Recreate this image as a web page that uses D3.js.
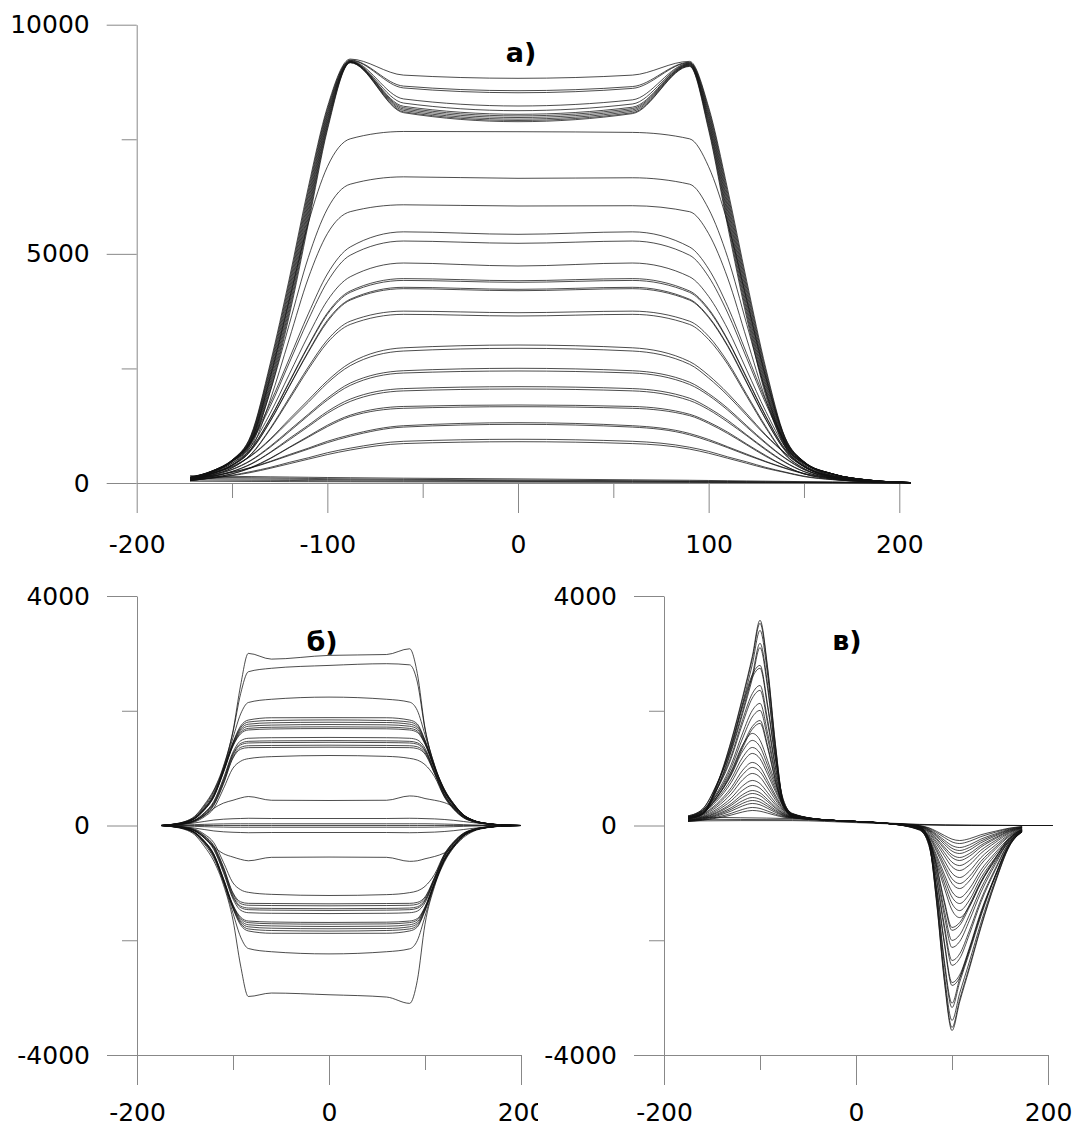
<!DOCTYPE html>
<html>
<head>
<meta charset="utf-8">
<script src="https://cdn.jsdelivr.net/npm/d3@7"></script>
<style>
body { margin: 0; background: #fff; }
svg { display: block; }
text { font-family: "DejaVu Sans", sans-serif; }
</style>
</head>
<body>
<div id="chart"></div>
<script>
// ---- panel a) ----
const xA = [-172,-160,-150,-140,-130,-120,-110,-100,-88,-60,0,60,90,100,110,120,130,140,150,165,185,206];
const curvesA = [
	[130,270,500,1050,2600,4450,6450,8200,9250,8900,8830,8900,9200,8200,6400,4400,2500,1000,470,200,60,10],
	[125,265,495,1030,2540,4370,6370,8150,9230,8660,8560,8650,9180,8150,6320,4320,2440,980,465,200,60,10],
	[120,260,490,1010,2480,4290,6290,8100,9220,8620,8515,8610,9170,8100,6240,4240,2380,960,460,200,60,10],
	[118,258,485,990,2420,4210,6210,8050,9210,8380,8226,8360,9160,8050,6160,4160,2320,940,455,198,60,10],
	[117,256,482,970,2360,4130,6130,8000,9200,8290,8124,8270,9150,8000,6080,4080,2260,920,450,197,59,10],
	[116,255,478,950,2300,4050,6050,7950,9195,8220,8045,8200,9140,7950,6000,4000,2200,900,446,196,59,10],
	[115,254,475,930,2240,3970,5970,7900,9190,8190,8010,8170,9130,7900,5920,3920,2140,880,442,195,58,10],
	[114,252,472,910,2180,3890,5890,7850,9185,8160,7975,8140,9120,7850,5840,3840,2080,860,438,195,58,10],
	[113,250,468,890,2120,3810,5810,7800,9180,8130,7940,8110,9110,7800,5760,3760,2020,840,434,194,58,10],
	[112,248,465,870,2060,3730,5730,7750,9175,8100,7910,8080,9100,7750,5680,3680,1960,820,430,193,57,10],
	[110,246,460,850,2000,3650,5650,7700,9170,8080,7884,8060,9090,7700,5600,3600,1900,800,425,192,57,10],
	[120,270,500,920,2300,3990,5670,6900,7510,7670,7665,7650,7510,6900,5670,3990,2300,1000,460,190,60,10],
	[100,230,430,800,1990,3460,4920,5980,6520,6680,6648,6660,6520,5980,4920,3460,1990,860,400,170,50,7],
	[90,210,390,730,1810,3140,4470,5440,5920,6070,6044,6050,5920,5440,4470,3140,1810,790,360,150,50,6],
	[110,270,490,920,1740,2710,3690,4560,5150,5480,5426,5480,5150,4670,3850,2820,1790,920,460,160,50,10],
	[100,260,470,890,1670,2620,3560,4390,4970,5280,5230,5280,4970,4500,3710,2720,1730,890,440,160,50,10],
	[95,240,430,800,1520,2370,3220,3980,4500,4800,4735,4800,4500,4070,3360,2460,1560,800,400,140,50,9],
	[90,220,400,750,1410,2210,3000,3710,4190,4460,4414,4460,4190,3800,3130,2300,1460,750,380,130,40,9],
	[90,220,390,740,1400,2190,2980,3680,4160,4420,4379,4420,4160,3770,3110,2280,1450,740,370,130,40,9],
	[85,210,380,720,1350,2110,2870,3550,4010,4270,4226,4270,4010,3630,3000,2200,1390,720,360,130,40,8],
	[84,210,380,710,1340,2100,2850,3520,3990,4240,4196,4240,3990,3610,2980,2180,1380,710,360,130,40,8],
	[75,190,330,630,1190,1860,2530,3120,3530,3750,3716,3750,3530,3200,2640,1930,1230,630,320,110,40,7],
	[73,180,330,620,1170,1820,2480,3060,3460,3680,3644,3680,3460,3130,2590,1890,1200,620,310,110,36,7],
	[90,210,360,600,960,1390,1810,2230,2620,2950,3011,2950,2650,2350,1960,1510,1050,660,360,150,45,9],
	[88,210,350,590,940,1350,1760,2180,2560,2880,2939,2880,2590,2290,1910,1470,1030,650,350,150,44,9],
	[75,180,300,500,800,1150,1500,1850,2180,2450,2503,2450,2200,1950,1630,1250,880,550,300,130,38,8],
	[73,170,290,490,780,1120,1470,1810,2130,2400,2444,2400,2150,1910,1590,1220,860,540,290,120,37,7],
	[63,150,250,420,670,970,1260,1560,1830,2060,2102,2060,1850,1640,1370,1050,740,460,250,105,32,6],
	[62,140,250,410,660,940,1230,1520,1780,2010,2051,2010,1800,1600,1330,1030,720,450,250,100,31,6],
	[51,120,200,340,540,780,1020,1260,1480,1670,1702,1670,1500,1330,1110,850,600,370,200,85,26,5],
	[50,120,200,330,530,770,1000,1230,1450,1630,1665,1630,1470,1300,1080,830,580,370,200,83,25,5],
	[80,160,240,340,470,620,760,910,1050,1250,1316,1250,1080,950,790,630,470,330,210,105,39,7],
	[77,150,230,330,460,600,740,880,1020,1220,1280,1220,1050,920,770,610,460,320,200,100,38,6],
	[57,110,170,250,340,450,550,660,760,910,954,910,780,690,570,460,340,240,150,76,29,5],
	[54,110,160,230,320,420,520,620,720,860,901,860,740,650,540,430,320,230,140,72,27,5],
	[160,150,145,140,135,130,125,120,115,105,90,70,60,55,50,45,40,35,30,25,15,0],
	[130,125,120,115,110,105,100,95,90,80,65,50,42,38,34,30,27,24,20,15,8,0],
	[100,95,90,88,85,82,78,75,70,62,50,38,32,29,26,23,20,17,14,10,5,0],
	[70,66,63,60,58,55,52,50,47,42,34,26,22,20,18,16,14,12,10,7,3,0],
	[40,38,36,34,33,31,30,28,27,24,19,15,12,11,10,9,8,7,6,4,2,0]
];
const xTicksA = [-200,-100,0,100,200];
const xMinorA = [-150,-50,50,150];
const yTicksA = [0,5000,10000];
const yMinorA = [2500,7500];

// ---- panel б) ----
const xB = [-175,-160,-150,-140,-130,-120,-110,-100,-92,-84,-60,0,60,84,92,100,110,120,130,140,150,165,180,200];
const curvesBPos = [
	[0,30,70,160,360,620,1030,1650,2450,3000,2900,2965,2980,3080,2650,1700,1050,640,380,190,95,35,12,0],
	[0,28,66,150,340,600,1010,1630,2300,2680,2740,2790,2820,2800,2500,1680,1045,635,375,188,94,35,12,0],
	[0,26,62,140,320,570,990,1530,1945,2144,2200,2238,2200,2150,2005,1583,1030,625,370,185,92,34,12,0],
	[0,25,58,132,300,540,970,1450,1735,1838,1878,1880,1878,1838,1769,1490,1015,615,365,182,90,33,11,0],
	[0,24,56,128,292,530,960,1440,1708,1803,1830,1840,1830,1803,1741,1475,1010,610,360,180,90,33,11,0],
	[0,24,55,125,285,520,950,1425,1681,1766,1790,1800,1795,1766,1710,1460,1005,605,355,178,89,32,11,0],
	[0,23,54,122,278,510,940,1410,1652,1730,1750,1760,1755,1730,1679,1445,1000,600,350,175,88,32,11,0],
	[0,22,52,118,270,500,930,1395,1622,1693,1712,1720,1715,1693,1647,1430,995,595,345,172,86,31,11,0],
	[0,22,51,116,265,495,920,1385,1599,1665,1682,1690,1685,1665,1622,1418,990,590,340,170,85,31,10,0],
	[0,18,42,95,220,420,820,1280,1477,1520,1530,1535,1530,1520,1492,1345,950,560,320,160,80,30,10,0],
	[0,17,40,90,210,400,790,1250,1431,1467,1475,1480,1475,1467,1443,1315,935,550,312,155,78,29,10,0],
	[0,16,38,85,200,385,770,1230,1405,1438,1445,1450,1445,1438,1417,1298,925,540,305,150,75,28,10,0],
	[0,15,35,80,185,365,740,1195,1362,1390,1395,1400,1395,1390,1372,1268,910,525,295,145,72,27,9,0],
	[0,14,33,75,175,350,720,1175,1331,1357,1360,1365,1360,1357,1340,1245,900,515,288,140,70,26,9,0],
	[0,12,28,62,150,300,640,1000,1120,1165,1200,1220,1205,1170,1140,1060,850,500,280,135,68,25,8,0],
	[0,15,35,80,170,300,390,440,480,505,440,436,440,515,505,470,440,400,320,180,90,34,11,0],
	[0,10,25,45,70,95,110,118,122,126,122,122,122,126,124,120,115,105,90,70,50,25,8,0],
	[0,5,10,15,20,25,28,30,30,30,30,30,30,30,30,30,28,25,20,15,10,5,2,0],
	[0,0,0,0,0,0,0,0,0,0,0,0,0,0,0,0,0,0,0,0,0,0,0,0]
];
const curvesBNeg = [
	[0,-30,-70,-160,-360,-620,-1030,-1650,-2450,-2980,-2920,-2950,-2990,-3100,-2700,-1720,-1060,-645,-382,-190,-95,-35,-12,0],
	[0,-26,-62,-140,-320,-570,-990,-1530,-1945,-2144,-2200,-2238,-2200,-2150,-2005,-1583,-1030,-625,-370,-185,-92,-34,-12,0],
	[0,-25,-58,-132,-300,-540,-970,-1450,-1735,-1838,-1878,-1880,-1878,-1838,-1769,-1490,-1015,-615,-365,-182,-90,-33,-11,0],
	[0,-24,-56,-128,-292,-530,-960,-1440,-1708,-1803,-1830,-1840,-1830,-1803,-1741,-1475,-1010,-610,-360,-180,-90,-33,-11,0],
	[0,-24,-55,-125,-285,-520,-950,-1425,-1681,-1766,-1790,-1800,-1795,-1766,-1710,-1460,-1005,-605,-355,-178,-89,-32,-11,0],
	[0,-23,-54,-122,-278,-510,-940,-1410,-1652,-1730,-1750,-1760,-1755,-1730,-1679,-1445,-1000,-600,-350,-175,-88,-32,-11,0],
	[0,-22,-52,-118,-270,-500,-930,-1395,-1622,-1693,-1712,-1720,-1715,-1693,-1647,-1430,-995,-595,-345,-172,-86,-31,-11,0],
	[0,-22,-51,-116,-265,-495,-920,-1385,-1599,-1665,-1682,-1690,-1685,-1665,-1622,-1418,-990,-590,-340,-170,-85,-31,-10,0],
	[0,-18,-42,-95,-220,-420,-820,-1280,-1477,-1520,-1530,-1535,-1530,-1520,-1492,-1345,-950,-560,-320,-160,-80,-30,-10,0],
	[0,-17,-40,-90,-210,-400,-790,-1250,-1431,-1467,-1475,-1480,-1475,-1467,-1443,-1315,-935,-550,-312,-155,-78,-29,-10,0],
	[0,-16,-38,-85,-200,-385,-770,-1230,-1405,-1438,-1445,-1450,-1445,-1438,-1417,-1298,-925,-540,-305,-150,-75,-28,-10,0],
	[0,-15,-35,-80,-185,-365,-740,-1195,-1362,-1390,-1395,-1400,-1395,-1390,-1372,-1268,-910,-525,-295,-145,-72,-27,-9,0],
	[0,-14,-33,-75,-175,-350,-720,-1175,-1331,-1357,-1360,-1365,-1360,-1357,-1340,-1245,-900,-515,-288,-140,-70,-26,-9,0],
	[0,-12,-28,-62,-150,-300,-640,-1000,-1120,-1165,-1200,-1220,-1205,-1170,-1140,-1060,-850,-500,-280,-135,-68,-25,-8,0],
	[0,-18,-42,-95,-210,-370,-490,-550,-590,-615,-555,-550,-555,-625,-615,-580,-540,-480,-370,-210,-105,-38,-12,0],
	[0,-10,-25,-45,-70,-95,-110,-118,-122,-126,-122,-122,-122,-126,-124,-120,-115,-105,-90,-70,-50,-25,-8,0],
	[0,-5,-10,-15,-20,-25,-28,-30,-30,-30,-30,-30,-30,-30,-30,-30,-28,-25,-20,-15,-10,-5,-2,0]
];
const xTicksB = [-200,0,200];
const xMinorB = [-100,100];
const yTicksB = [-4000,0,4000];
const yMinorB = [-2000,2000];

// ---- panel в) ----
const xC = [-175,-160,-145,-130,-118,-108,-100,-92,-84,-76,-66,-30,0,30,66,76,84,92,100,108,118,130,145,160,173];
const curvesC = [
	[130,210,706,1480,2250,2950,3576,2747,1431,428,155,95,70,40,-21,-312,-1351,-2713,-3573,-3075,-2503,-1788,-1001,-358,-107],
	[128,207,696,1459,2217,2907,3523,2706,1411,423,154,95,70,40,-20,-307,-1331,-2672,-3520,-3030,-2466,-1762,-986,-352,-106],
	[126,202,674,1410,2141,2806,3400,2613,1364,412,153,95,70,40,-19,-296,-1284,-2579,-3397,-2924,-2380,-1700,-952,-340,-102],
	[122,193,634,1320,2002,2622,3175,2442,1279,392,151,95,70,40,-17,-276,-1199,-2408,-3172,-2731,-2223,-1588,-889,-318,-95],
	[120,190,620,1290,1955,2560,3100,2385,1250,385,150,95,70,40,-16,-269,-1170,-2351,-3097,-2666,-2170,-1550,-868,-310,-93],
	[168,285,726,1381,2113,2629,2790,2096,1186,465,201,95,70,40,-69,-353,-1108,-2060,-2787,-2651,-2176,-1535,-893,-335,-112],
	[166,281,714,1357,2075,2582,2740,2059,1166,458,199,95,70,40,-67,-346,-1088,-2023,-2737,-2603,-2137,-1507,-877,-329,-110],
	[154,257,642,1213,1850,2300,2440,1837,1046,419,190,95,70,40,-58,-307,-968,-1801,-2437,-2318,-1903,-1342,-781,-293,-98],
	[150,250,621,1172,1786,2220,2355,1774,1012,408,188,95,70,40,-56,-296,-934,-1738,-2352,-2237,-1837,-1295,-754,-283,-94],
	[141,232,567,1063,1616,2006,2128,1606,921,379,181,95,70,40,-49,-267,-843,-1570,-2125,-2022,-1660,-1170,-681,-255,-85],
	[136,222,537,1005,1525,1892,2006,1515,872,363,177,95,70,40,-45,-251,-794,-1479,-2003,-1906,-1565,-1103,-642,-241,-80],
	[129,208,495,920,1393,1726,1830,1385,802,340,172,95,70,40,-40,-228,-724,-1349,-1827,-1739,-1427,-1007,-586,-220,-73],
	[127,204,483,896,1355,1679,1780,1348,782,333,170,95,70,40,-38,-221,-704,-1312,-1777,-1691,-1388,-979,-570,-214,-71],
	[150,266,532,948,1404,1605,1485,1128,742,401,210,95,70,40,-81,-295,-666,-1086,-1474,-1605,-1412,-995,-610,-273,-112],
	[143,250,495,878,1298,1483,1372,1045,691,378,203,95,70,40,-74,-272,-615,-1003,-1361,-1483,-1305,-919,-564,-252,-104],
	[136,234,458,808,1191,1360,1259,962,639,354,196,95,70,40,-67,-248,-563,-920,-1248,-1360,-1197,-843,-517,-231,-95],
	[129,220,427,749,1101,1256,1164,891,596,335,189,95,70,40,-60,-229,-520,-849,-1153,-1256,-1105,-779,-477,-214,-88],
	[120,200,380,659,964,1099,1019,784,530,305,180,95,70,40,-51,-199,-454,-742,-1008,-1099,-967,-681,-418,-187,-77],
	[115,189,354,610,888,1012,939,725,493,288,175,95,70,40,-46,-182,-417,-683,-928,-1012,-891,-627,-385,-172,-71],
	[108,175,322,550,797,907,842,654,449,268,168,95,70,40,-39,-162,-373,-612,-831,-907,-798,-562,-345,-154,-63],
	[101,159,286,480,691,785,730,571,398,245,161,95,70,40,-32,-139,-322,-529,-719,-785,-691,-487,-298,-133,-55],
	[96,148,259,431,615,698,650,512,361,229,156,95,70,40,-27,-123,-285,-470,-639,-698,-614,-433,-265,-119,-49],
	[91,136,233,381,539,610,569,452,324,212,151,95,70,40,-22,-106,-248,-410,-558,-610,-537,-378,-232,-104,-43],
	[87,130,217,351,493,558,521,416,302,202,147,95,70,40,-18,-96,-226,-374,-510,-558,-491,-346,-212,-95,-39],
	[83,120,196,311,433,488,457,369,273,189,143,95,70,40,-14,-83,-197,-327,-446,-488,-429,-303,-185,-83,-34],
	[80,114,181,282,387,436,409,333,251,179,140,95,70,40,-11,-73,-175,-291,-398,-436,-384,-270,-166,-74,-31],
	[77,107,165,252,342,384,361,298,229,169,137,95,70,40,-8,-63,-153,-256,-350,-384,-338,-238,-146,-65,-27],
	[73,98,144,212,281,314,297,251,200,156,133,95,70,40,-4,-50,-124,-209,-286,-314,-276,-195,-119,-53,-22],
	[70,91,129,182,236,262,249,215,178,146,130,95,70,40,-1,-40,-102,-173,-238,-262,-231,-162,-100,-45,-18]
];
const xCBase = [-175,-120,-66,0,66,120,173,205];
const curvesCBase = [
	[150,135,120,70,20,5,0,0],
	[110,105,100,60,15,3,0,0],
	[80,85,85,50,12,2,0,0]
];

const svg = d3.select("#chart").append("svg")
	.attr("width", 1073)
	.attr("height", 1129);

const AXIS_COLOR = "#888";

function styleAxis(g) {
	g.selectAll("path, line").attr("stroke", AXIS_COLOR).attr("stroke-width", 1);
	g.selectAll("text")
		.attr("fill", "#000")
		.style("font-family", "'DejaVu Sans', sans-serif")
		.style("font-size", "25px");
}

function drawAxes(g, x, y, o) {
	const fmt = (d) => String(d);
	// x axis (major + minor)
	const xg = g.append("g").attr("transform", `translate(0,${y(o.xAt)})`);
	xg.call(d3.axisBottom(x).tickValues(o.xMajor).tickSize(30).tickSizeOuter(0).tickPadding(o.xPad).tickFormat(fmt));
	xg.append("g")
		.call(d3.axisBottom(x).tickValues(o.xMinor).tickSize(15).tickFormat(""))
		.call((s) => s.select(".domain").remove());
	styleAxis(xg);
	// y axis (major + minor)
	const yg = g.append("g").attr("transform", `translate(${x(-200)},0)`);
	yg.call(d3.axisLeft(y).tickValues(o.yMajor).tickSize(30).tickSizeOuter(0).tickPadding(17).tickFormat(fmt));
	yg.append("g")
		.call(d3.axisLeft(y).tickValues(o.yMinor).tickSize(15).tickFormat(""))
		.call((s) => s.select(".domain").remove());
	styleAxis(yg);
}

function drawCurves(g, x, y, xs, rows) {
	const line = d3.line()
		.x((d, i) => x(xs[i]))
		.y((d) => y(d))
		.curve(d3.curveMonotoneX);
	g.append("g")
		.selectAll("path")
		.data(rows)
		.join("path")
		.attr("d", line)
		.attr("fill", "none")
		.attr("stroke", "#111")
		.attr("stroke-width", 0.75);
}

function title(txt, cx, by) {
	svg.append("text")
		.attr("x", cx)
		.attr("y", by)
		.attr("text-anchor", "middle")
		.style("font-family", "'DejaVu Sans', sans-serif")
		.style("font-weight", "bold")
		.style("font-size", "27px")
		.text(txt);
}

// panel а)
const gA = svg.append("g");
const xScaleA = d3.scaleLinear().domain([-200, 200]).range([136.7, 899.3]);
const yScaleA = d3.scaleLinear().domain([0, 10000]).range([483, 24.7]);
drawAxes(gA, xScaleA, yScaleA, { xAt: 0, xPad: 22, xMajor: xTicksA, xMinor: xMinorA, yMajor: yTicksA, yMinor: yMinorA });
drawCurves(gA, xScaleA, yScaleA, xA, curvesA);
title("а)", 521, 62);

// panel б)  (its right edge is cut, as in the original figure)
svg.append("defs").append("clipPath").attr("id", "clipB")
	.append("rect").attr("x", 0).attr("y", 560).attr("width", 538).attr("height", 569);
const gB = svg.append("g").attr("clip-path", "url(#clipB)");
const xScaleB = d3.scaleLinear().domain([-200, 200]).range([137, 521]);
const yScaleB = d3.scaleLinear().domain([-4000, 4000]).range([1055, 596]);
drawAxes(gB, xScaleB, yScaleB, { xAt: -4000, xPad: 18, xMajor: xTicksB, xMinor: xMinorB, yMajor: yTicksB, yMinor: yMinorB });
drawCurves(gB, xScaleB, yScaleB, xB, curvesBPos);
drawCurves(gB, xScaleB, yScaleB, xB, curvesBNeg);
title("б)", 322, 651);

// panel в)
const gC = svg.append("g");
const xScaleC = d3.scaleLinear().domain([-200, 200]).range([664, 1048]);
const yScaleC = d3.scaleLinear().domain([-4000, 4000]).range([1055, 596]);
drawAxes(gC, xScaleC, yScaleC, { xAt: -4000, xPad: 18, xMajor: xTicksB, xMinor: xMinorB, yMajor: yTicksB, yMinor: yMinorB });
drawCurves(gC, xScaleC, yScaleC, xC, curvesC);
drawCurves(gC, xScaleC, yScaleC, xCBase, curvesCBase);
title("в)", 847, 650);
</script>
</body>
</html>
